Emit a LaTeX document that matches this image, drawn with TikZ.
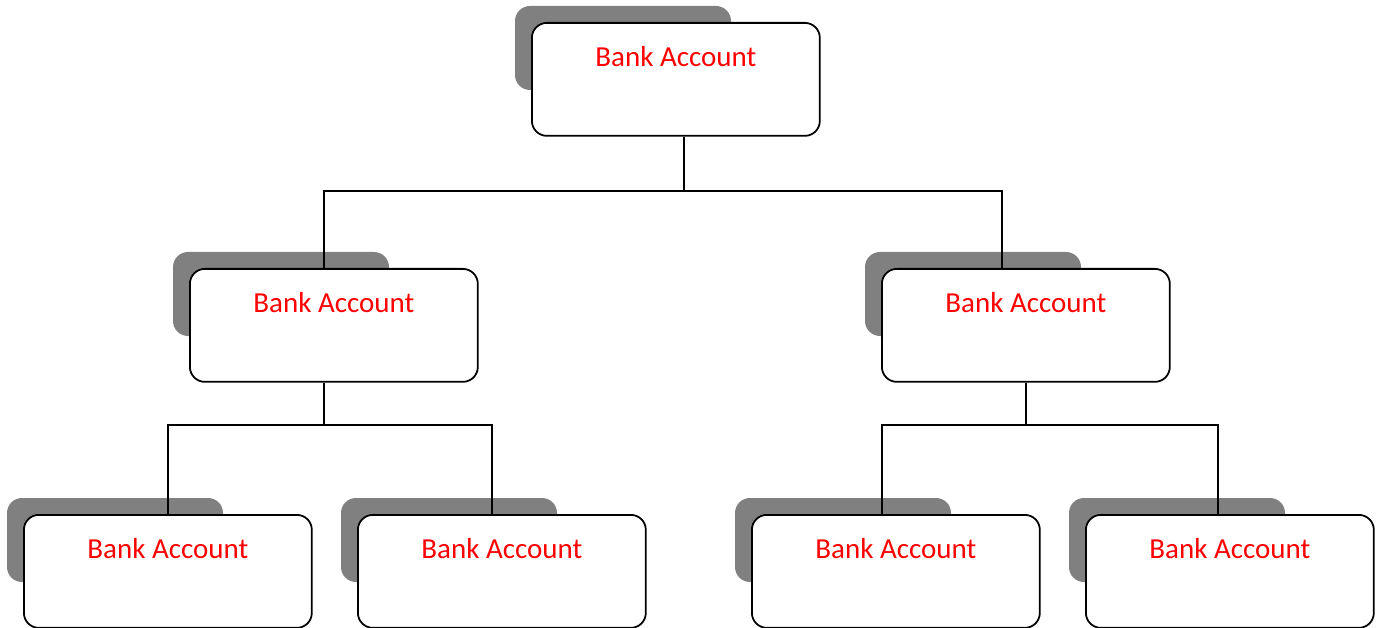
\documentclass[tikz,border=0pt]{standalone}
\usepackage{fontspec}
\setmainfont{Carlito}
\usetikzlibrary{positioning, calc}

\begin{document}
\begin{tikzpicture}[x=0.02cm, y=-0.02cm,
        account/.style={draw=black, line width=1pt, fill=white, rounded corners=0.3cm,
            anchor=north west, inner sep=0pt, minimum width=5.76cm,
            text height=0.88cm, text depth=1.38cm, text=red,
            font=\fontsize{16.5}{20}\selectfont},
        shade/.style={fill=black!50, rounded corners=0.3cm},
        link/.style={line width=1pt}
    ]

    \useasboundingbox (0,0) rectangle (1376,628);

    % boxes with their grey backs
    \foreach \name/\x/\y in {root/531/22, accL/189/268, accR/881/268,
            accLL/23/514, accLR/357/514, accRL/751/514, accRR/1085/514} {
        \fill[shade] (\x-16,\y-16) rectangle (\x+200,\y+68);
        \node[account] (\name) at (\x,\y) {Bank Account};
    }

    % top level
    \draw[link] ($(root.south)+(8,0)$) -- ++(0,54) coordinate (busT);
    \draw[link] ($(accL.north)+(-10,0)$) |- (busT) -| ($(accR.north)+(-24,0)$);

    % left branch
    \draw[link] ($(accL.south)+(-10,0)$) -- ++(0,42) coordinate (busL);
    \draw[link] (accLL.north) |- (busL) -| ($(accLR.north)+(-10,0)$);

    % right branch
    \draw[link] (accR.south) -- ++(0,42) coordinate (busR);
    \draw[link] ($(accRL.north)+(-14,0)$) |- (busR) -| ($(accRR.north)+(-12,0)$);

\end{tikzpicture}
\end{document}
